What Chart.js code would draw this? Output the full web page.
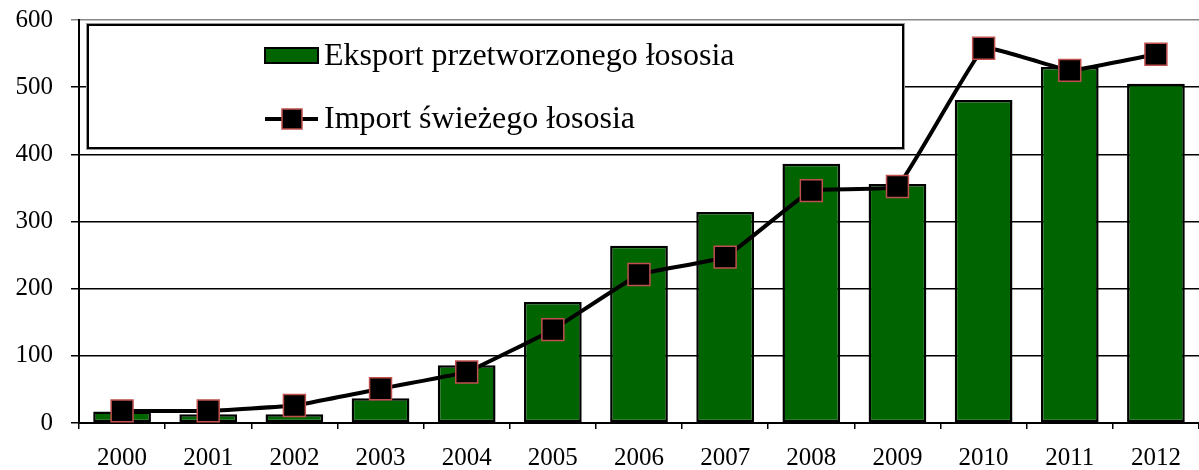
<!DOCTYPE html>
<html>
<head>
<meta charset="utf-8">
<script src="https://cdn.jsdelivr.net/npm/chart.js@4/dist/chart.umd.min.js"></script>
<style>
  html, body { margin: 0; padding: 0; background: #fff; overflow: hidden; }
  #wrap { width: 1216px; height: 470px; }
</style>
</head>
<body>
<div id="wrap"><canvas id="myChart" width="1216" height="470"></canvas></div>
<script>
// dane z wykresu
const years = ['2000', '2001', '2002', '2003', '2004', '2005', '2006', '2007', '2008', '2009', '2010', '2011', '2012'];
const eksport = [17, 13, 13, 37, 86, 180, 264, 314, 386, 356, 481, 530, 505];
const importSwiezy = [18, 18, 26, 51, 76, 139, 221, 247, 346, 352, 558, 525, 549];
const yTicks = [0, 100, 200, 300, 400, 500, 600];

const FONT = 'Liberation Serif';

// legenda w ramce wewnatrz obszaru wykresu
const boxLegend = {
  id: 'boxLegend',
  afterDraw(chart) {
    const ctx = chart.ctx;
    const barDs = chart.data.datasets.find((d) => d.type === 'bar');
    const lineDs = chart.data.datasets.find((d) => d.type === 'line');
    ctx.save();
    ctx.fillStyle = '#fff';
    ctx.fillRect(88, 25, 815, 123);
    ctx.strokeStyle = '#999';
    ctx.lineWidth = 1;
    ctx.strokeRect(86.5, 23.5, 818, 126);
    ctx.strokeStyle = '#000';
    ctx.lineWidth = 2;
    ctx.strokeRect(88, 25, 815, 123);

    // eksport - prostokat
    ctx.fillStyle = barDs.backgroundColor;
    ctx.fillRect(265, 48, 53, 15);
    ctx.strokeStyle = '#000';
    ctx.lineWidth = 2;
    ctx.strokeRect(265, 48, 53, 15);

    // import - linia z markerem
    ctx.beginPath();
    ctx.moveTo(265, 119);
    ctx.lineTo(318, 119);
    ctx.lineWidth = 4;
    ctx.stroke();
    ctx.fillStyle = '#000';
    ctx.fillRect(282, 109, 20, 20);
    ctx.strokeStyle = '#c0504d';
    ctx.lineWidth = 1.5;
    ctx.strokeRect(282, 109, 20, 20);

    ctx.fillStyle = '#000';
    ctx.font = '32px "' + FONT + '"';
    ctx.textBaseline = 'middle';
    ctx.fillText(barDs.label, 324, 57);
    ctx.fillText(lineDs.label, 324, 120);
    ctx.restore();
  }
};

new Chart(document.getElementById('myChart'), {
  data: {
    labels: years,
    datasets: [
      {
        type: 'line',
        label: 'Import świeżego łososia',
        data: importSwiezy,
        borderColor: '#000',
        borderWidth: 4,
        tension: 0.08,
        pointStyle: 'rect',
        pointRadius: 15.5,
        pointBackgroundColor: '#000',
        pointBorderColor: '#c0504d',
        pointBorderWidth: 1.5,
        order: 0,
      },
      {
        type: 'bar',
        label: 'Eksport przetworzonego łososia',
        data: eksport,
        backgroundColor: '#006400',
        borderColor: '#000',
        borderWidth: 2.5,
        borderSkipped: false,
        categoryPercentage: 1,
        barPercentage: 0.67,
        order: 1,
      },
    ],
  },
  options: {
    responsive: false,
    animation: false,
    layout: { padding: { top: 20, right: 2, left: 0, bottom: 0 } },
    plugins: {
      legend: { display: false },
      tooltip: { enabled: false },
    },
    scales: {
      x: {
        offset: true,
        grid: {
          offset: true,
          drawOnChartArea: false,
          color: '#000',
          lineWidth: 1.5,
          tickLength: 6,
        },
        border: { color: '#000', width: 2 },
        ticks: {
          color: '#000',
          font: { family: FONT, size: 25 },
          padding: 14,
          maxRotation: 0,
        },
        afterFit(scale) {
          scale.height = 47;
          scale.paddingLeft = 0;
          scale.paddingRight = 0;
        },
      },
      y: {
        min: 0,
        max: 600,
        afterBuildTicks(scale) { scale.ticks = yTicks.map((v) => ({ value: v })); },
        grid: {
          color: (c) => (c.tick && c.tick.value === 600 ? '#888' : '#000'),
          lineWidth: 1.5,
          tickLength: 8,
        },
        border: { color: '#000', width: 2 },
        ticks: {
          color: '#000',
          font: { family: FONT, size: 25 },
          padding: 18,
        },
        afterFit(scale) {
          scale.width = 79;
          scale.paddingTop = 0;
          scale.paddingBottom = 0;
        },
      },
    },
  },
  plugins: [boxLegend],
});
</script>
</body>
</html>
